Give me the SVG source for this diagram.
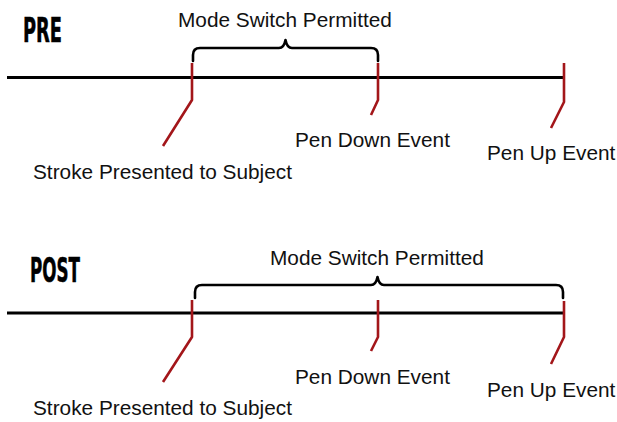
<svg xmlns="http://www.w3.org/2000/svg" width="617" height="422" viewBox="0 0 617 422">
  <style>
    .axis { stroke: #000; stroke-width: 3.2; fill: none; }
    .brace { stroke: #000; stroke-width: 2.6; fill: none; stroke-linejoin: round; stroke-linecap: round; }
    .tick { stroke: #a3161a; stroke-width: 2.6; fill: none; stroke-linejoin: round; }
    .lbl { font-family: "Liberation Sans", Arial, sans-serif; font-size: 20.8px; fill: #111; }
    .title { font-family: "DejaVu Sans", sans-serif; font-weight: bold; font-size: 34px; fill: #000; stroke: #000; stroke-width: 0.6; }
  </style>
  <rect width="617" height="422" fill="#fff"/>

  <!-- PRE timeline -->
  <g id="pre">
    <text class="title" x="23" y="42" textLength="39" lengthAdjust="spacingAndGlyphs">PRE</text>
    <g id="pre-connectors">
      <line class="axis" x1="7" y1="77.5" x2="564" y2="77.5"/>
      <path class="brace" d="M193,61 V55 Q193,48 200,48 H279 Q284,48 285.5,40 Q287,48 292,48 H371 Q378,48 378,55 V61"/>
      <path class="tick" d="M192,63 V100 L163,146"/>
      <path class="tick" d="M378,63 V100 L371,115"/>
      <path class="tick" d="M564,63 V102 L551,128"/>
    </g>
    <g id="pre-window"><text class="lbl" x="178" y="27">Mode Switch Permitted</text></g>
    <g id="pre-stroke"><text class="lbl" x="33" y="179">Stroke Presented to Subject</text></g>
    <g id="pre-pendown"><text class="lbl" x="295" y="147">Pen Down Event</text></g>
    <g id="pre-penup"><text class="lbl" x="487" y="160">Pen Up Event</text></g>
  </g>

  <!-- POST timeline -->
  <g id="post">
    <text class="title" x="30" y="282" textLength="50" lengthAdjust="spacingAndGlyphs">POST</text>
    <g id="post-connectors">
      <line class="axis" x1="7" y1="313" x2="564" y2="313"/>
      <path class="brace" d="M195,298 V292 Q195,285 202,285 H371 Q376,285 377.5,277 Q379,285 384,285 H556 Q563,285 563,292 V298"/>
      <path class="tick" d="M192,300 V337 L163,382"/>
      <path class="tick" d="M378,300 V337 L371,351"/>
      <path class="tick" d="M564,301 V337 L551,364"/>
    </g>
    <g id="post-window"><text class="lbl" x="270" y="265">Mode Switch Permitted</text></g>
    <g id="post-stroke"><text class="lbl" x="33" y="415">Stroke Presented to Subject</text></g>
    <g id="post-pendown"><text class="lbl" x="295" y="384">Pen Down Event</text></g>
    <g id="post-penup"><text class="lbl" x="487" y="397">Pen Up Event</text></g>
  </g>
</svg>
